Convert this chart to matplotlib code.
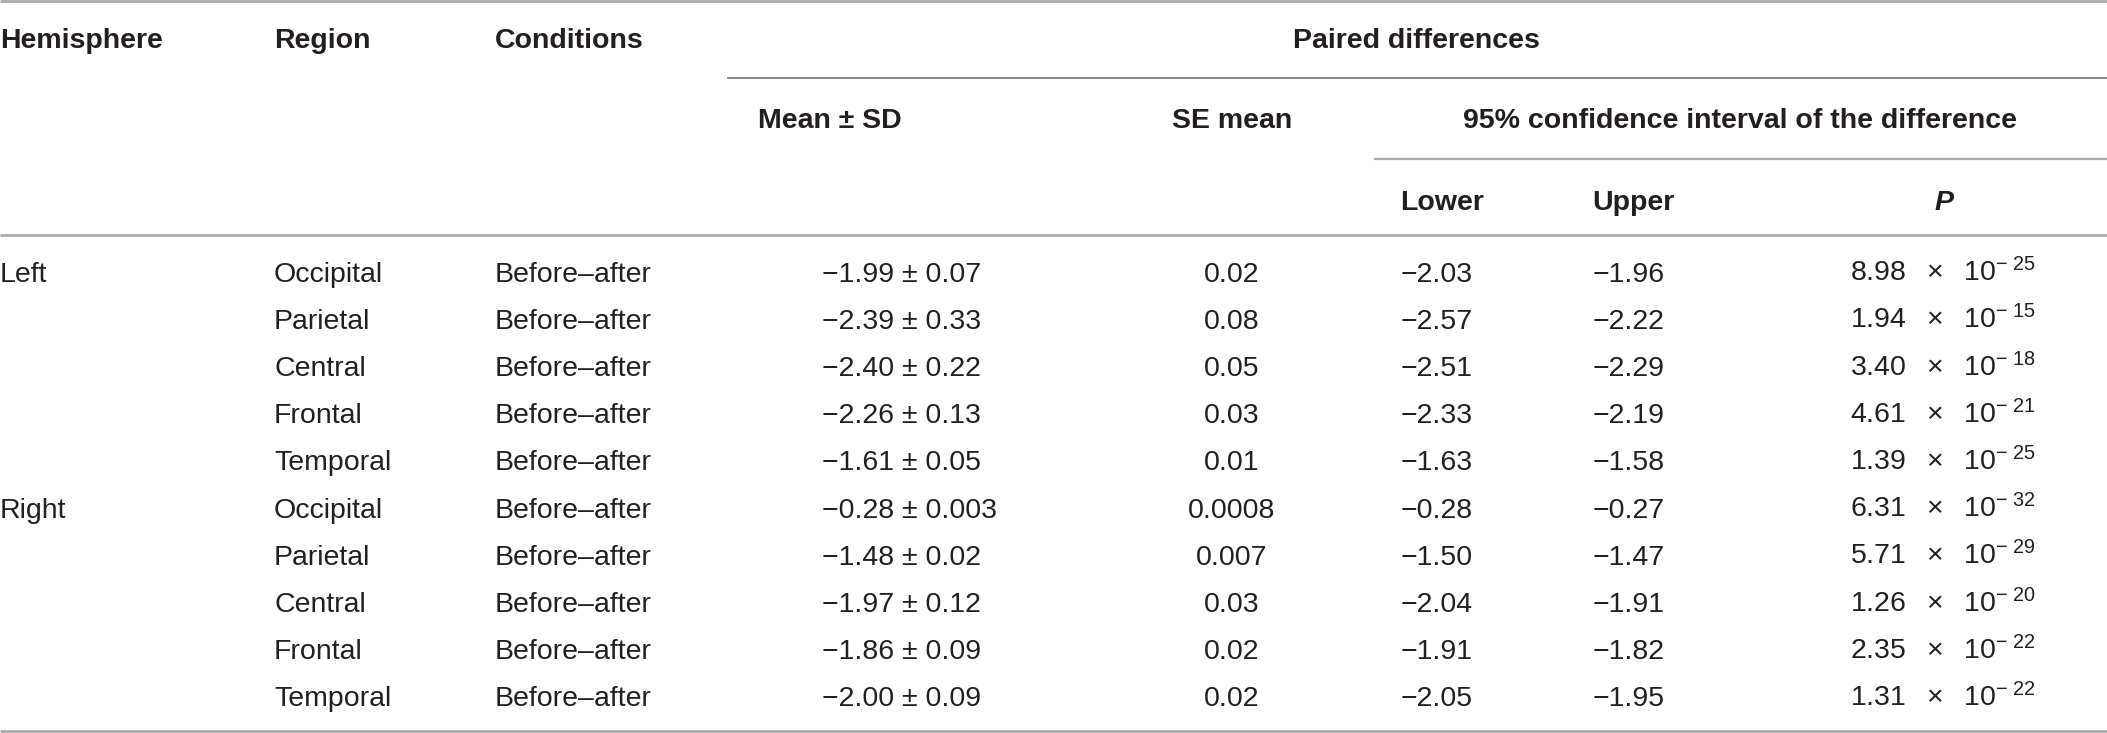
import matplotlib
matplotlib.use("Agg")
import matplotlib.pyplot as plt

plt.rcParams['font.family'] = ['Liberation Sans', 'DejaVu Sans']
plt.rcParams['mathtext.fontset'] = 'custom'
plt.rcParams['mathtext.rm'] = 'Liberation Sans'
plt.rcParams['mathtext.it'] = 'Liberation Sans:italic'
plt.rcParams['mathtext.bf'] = 'Liberation Sans:bold'

# table data
hemispheres = ["Left", "", "", "", "", "Right", "", "", "", ""]
regions = ["Occipital", "Parietal", "Central", "Frontal", "Temporal",
           "Occipital", "Parietal", "Central", "Frontal", "Temporal"]
conditions = ["Before\u2013after"] * 10
means = ["\u22121.99", "\u22122.39", "\u22122.40", "\u22122.26", "\u22121.61",
         "\u22120.28", "\u22121.48", "\u22121.97", "\u22121.86", "\u22122.00"]
sds = ["0.07", "0.33", "0.22", "0.13", "0.05",
       "0.003", "0.02", "0.12", "0.09", "0.09"]
se_means = ["0.02", "0.08", "0.05", "0.03", "0.01",
            "0.0008", "0.007", "0.03", "0.02", "0.02"]
lowers = ["\u22122.03", "\u22122.57", "\u22122.51", "\u22122.33", "\u22121.63",
          "\u22120.28", "\u22121.50", "\u22122.04", "\u22121.91", "\u22122.05"]
uppers = ["\u22121.96", "\u22122.22", "\u22122.29", "\u22122.19", "\u22121.58",
          "\u22120.27", "\u22121.47", "\u22121.91", "\u22121.82", "\u22121.95"]
p_mant = ["8.98", "1.94", "3.40", "4.61", "1.39",
          "6.31", "5.71", "1.26", "2.35", "1.31"]
p_exp = ["25", "15", "18", "21", "25", "32", "29", "20", "22", "22"]

W, H = 2107, 733
fig = plt.figure(figsize=(W / 100, H / 100), dpi=100)
ax = fig.add_axes([0, 0, 1, 1])
ax.set_xlim(0, W)
ax.set_ylim(H, 0)
ax.axis("off")

txt_col = "#231f20"
fs = 20.5
base = 10.5  # offset from visual row centre to baseline

def put(x, y, s, ha="left", bold=False, italic=False):
    ax.text(x, y + base, s, ha=ha, va="baseline", fontsize=fs, color=txt_col,
            fontweight="bold" if bold else "normal",
            fontstyle="italic" if italic else "normal")

# rules
light = "#aaaaaa"
dark = "#808080"
ax.plot([0, W], [1, 1], color=light, lw=2.0, solid_capstyle="butt")
ax.plot([727, W], [78, 78], color=dark, lw=1.3, solid_capstyle="butt")
ax.plot([1374, W], [159, 159], color=light, lw=1.6, solid_capstyle="butt")
ax.plot([0, W], [235, 235], color=light, lw=2.0, solid_capstyle="butt")
ax.plot([0, W], [731, 731], color=light, lw=2.0, solid_capstyle="butt")

# headers
put(0, 37, "Hemisphere", bold=True)
put(274, 37, "Region", bold=True)
put(495, 37, "Conditions", bold=True)
put(1416, 37, "Paired differences", ha="center", bold=True)
put(830, 118, "Mean \u00b1 SD", ha="center", bold=True)
put(1232, 118, "SE mean", ha="center", bold=True)
put(1740, 118, "95% confidence interval of the difference", ha="center", bold=True)
put(1400, 200, "Lower", bold=True)
put(1592, 200, "Upper", bold=True)
put(1944, 200, "P", ha="center", bold=True, italic=True)

# body
row0, step = 271, 47.2
for i in range(len(regions)):
    y = row0 + i * step
    put(0, y, hemispheres[i])
    put(274, y, regions[i])
    put(495, y, conditions[i])
    put(822, y, f"{means[i]} \u00b1 {sds[i]}")
    put(1232, y, se_means[i], ha="center")
    put(1401, y, lowers[i])
    put(1593, y, uppers[i])
    put(1943, y, r"$%s\ \ \times\ \ 10^{-\ %s}$" % (p_mant[i], p_exp[i]), ha="center")

fig.savefig("out.png", dpi=100, facecolor="white")
